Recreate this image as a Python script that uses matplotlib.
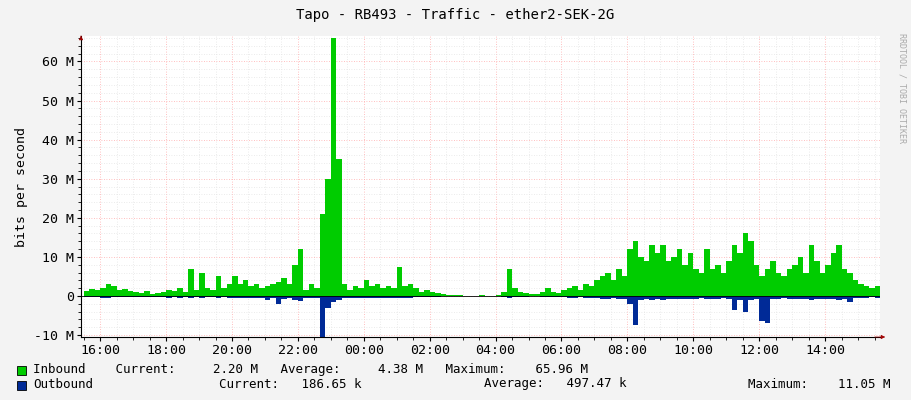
import matplotlib
matplotlib.use("Agg")
import matplotlib.pyplot as plt
import numpy as np
from datetime import datetime, timedelta
import matplotlib.dates as mdates

plt.rcParams['font.family'] = ['DejaVu Sans Mono']

start = datetime(2024, 1, 1, 15, 30)
inbound = [1.2,1.8,1.5,
 2.0,3.0,2.5,1.5,1.8,1.2,
 1.0,0.8,1.2,0.6,0.8,1.0,
 1.5,1.2,2.0,1.0,7.0,1.5,
 6.0,2.0,1.5,5.0,2.0,3.0,
 5.0,3.0,4.0,2.5,3.0,2.0,
 2.5,3.0,3.5,4.5,3.0,8.0,
 12.0,1.5,3.0,2.0,21.0,30.0,
 66.0,35.0,3.0,1.5,2.5,2.0,
 4.0,2.5,3.0,2.0,2.5,2.0,
 7.5,2.5,3.0,2.0,1.0,1.5,
 1.0,0.8,0.5,0.3,0.2,0.2,
 0.1,0.1,0.1,0.2,0.1,0.1,
 0.3,1.0,7.0,2.0,1.0,0.8,
 0.5,0.6,1.0,2.0,1.0,0.8,
 1.5,2.0,2.5,1.5,3.0,2.5,
 4.0,5.0,6.0,4.0,7.0,5.0,
 12.0,14.0,10.0,9.0,13.0,11.0,
 13.0,9.0,10.0,12.0,8.0,11.0,
 7.0,6.0,12.0,7.0,8.0,6.0,
 9.0,13.0,11.0,16.0,14.0,8.0,
 5.0,7.0,9.0,6.0,5.0,7.0,
 8.0,10.0,6.0,13.0,9.0,6.0,
 8.0,11.0,13.0,7.0,6.0,4.0,
 3.0,2.5,2.0,2.5]
outbound = [0.3,0.3,0.3,
 0.4,0.4,0.3,0.3,0.3,0.3,
 0.3,0.3,0.3,0.3,0.3,0.3,
 0.4,0.3,0.4,0.3,0.5,0.3,
 0.4,0.3,0.3,0.4,0.3,0.4,
 0.5,0.5,0.5,0.4,0.5,0.4,
 1.0,0.6,2.0,0.8,0.6,1.0,
 1.2,0.5,0.6,0.6,10.5,3.0,
 1.5,1.0,0.5,0.4,0.4,0.4,
 0.5,0.4,0.4,0.4,0.4,0.4,
 0.6,0.4,0.4,0.3,0.3,0.3,
 0.2,0.2,0.1,0.1,0.1,0.1,
 0.1,0.1,0.1,0.1,0.1,0.1,
 0.1,0.2,0.5,0.3,0.2,0.2,
 0.1,0.1,0.2,0.3,0.2,0.2,
 0.3,0.4,0.4,0.3,0.5,0.4,
 0.6,0.7,0.8,0.6,0.8,0.7,
 2.0,7.5,1.0,0.8,1.0,0.9,
 1.0,0.8,0.8,0.9,0.7,0.8,
 0.7,0.6,0.9,0.7,0.8,0.6,
 0.8,3.5,1.0,4.0,1.0,0.8,
 6.5,7.0,0.9,0.7,0.6,0.7,
 0.8,0.9,0.7,1.0,0.8,0.7,
 0.8,0.9,1.0,0.8,1.5,0.6,
 0.4,0.4,0.3,0.4]
times = [start + timedelta(minutes=10*i) for i in range(len(inbound))]
inb = np.array(inbound) * 1e6
outb = -np.array(outbound) * 1e6

fig = plt.figure(figsize=(9.11, 4.0), dpi=100, facecolor='#F3F3F3')
ax = fig.add_axes([81/911, 63/400, 799/911, 301/400])
ax.set_facecolor('white')
w = timedelta(minutes=10)
ax.bar(times, inb, width=w, align='edge', color='#00CC00', linewidth=0)
ax.bar(times, outb, width=w, align='edge', color='#002A97', linewidth=0)
ax.set_xlim(datetime(2024,1,1,15,25), datetime(2024,1,2,15,40))
ax.set_ylim(-10.5e6, 66.5e6)
ax.set_yticks([-10e6,0,10e6,20e6,30e6,40e6,50e6,60e6])
ax.set_yticklabels(['-10 M','0','10 M','20 M','30 M','40 M','50 M','60 M'], fontsize=9.5)
ax.yaxis.set_minor_locator(matplotlib.ticker.MultipleLocator(2e6))
ax.xaxis.set_major_locator(mdates.HourLocator(byhour=range(0,24,2)))
ax.xaxis.set_minor_locator(mdates.MinuteLocator(byminute=[0,30]))
ax.xaxis.set_major_formatter(mdates.DateFormatter('%H:%M'))
ax.tick_params(axis='x', labelsize=9.5, length=3, pad=2)
ax.tick_params(axis='y', length=3, pad=2)
ax.tick_params(which='minor', length=2)
ax.grid(True, which='major', color='#FFAAAA', linestyle=(0,(1,2)), linewidth=0.6)
ax.grid(True, which='minor', color='#E4E4E4', linestyle=(0,(1,2)), linewidth=0.6)
ax.set_axisbelow(True)
for s in ['top','right']:
    ax.spines[s].set_visible(False)
ax.axhline(0, color='black', linewidth=0.6)
ax.annotate('', xy=(1.01, 0), xycoords='axes fraction', xytext=(0.99, 0),
            arrowprops=dict(arrowstyle='-|>', color='#A00000', lw=0.5, mutation_scale=6))
ax.annotate('', xy=(0, 1.01), xycoords='axes fraction', xytext=(0, 0.99),
            arrowprops=dict(arrowstyle='-|>', color='#A00000', lw=0.5, mutation_scale=6))
ax.set_ylabel('bits per second', fontsize=9.5)
fig.text(0.5, 1-15/400, 'Tapo - RB493 - Traffic - ether2-SEK-2G', ha='center', va='center', fontsize=10)
fig.text(902/911, 0.78, 'RRDTOOL / TOBI OETIKER', rotation=270, fontsize=6, color='#AAAAAA', ha='center', va='center')
fig.patches.append(plt.Rectangle((17/911, 1-375/400), 9/911, 9/400, transform=fig.transFigure, facecolor='#00CC00', edgecolor='black', lw=0.6))
fig.patches.append(plt.Rectangle((17/911, 1-390/400), 9/911, 9/400, transform=fig.transFigure, facecolor='#002A97', edgecolor='black', lw=0.6))
fs = 9
fig.text(33/911, 1-369/400, 'Inbound    Current:     2.20 M   Average:     4.38 M   Maximum:    65.96 M', fontsize=fs, va='center')
fig.text(33/911, 1-384/400, 'Outbound', fontsize=fs, va='center')
fig.text(219/911, 1-384/400, 'Current:   186.65 k', fontsize=fs, va='center')
fig.text(484/911, 1-384/400, 'Average:   497.47 k', fontsize=fs, va='center')
fig.text(748/911, 1-384/400, 'Maximum:    11.05 M', fontsize=fs, va='center')
fig.savefig('out.png', dpi=100, facecolor=fig.get_facecolor())
